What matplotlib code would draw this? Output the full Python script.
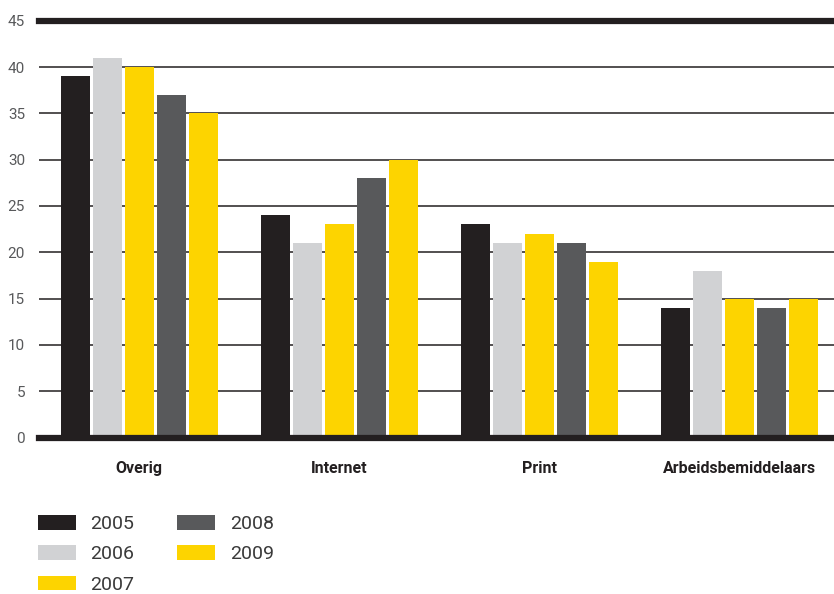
import matplotlib
matplotlib.use("Agg")
import numpy as np
from matplotlib import pyplot as plt

categories = ["Overig", "Internet", "Print", "Arbeidsbemiddelaars"]
years = ["2005", "2006", "2007", "2008", "2009"]
values = {
    "2005": [39, 24, 23, 14],
    "2006": [41, 21, 21, 18],
    "2007": [40, 23, 22, 15],
    "2008": [37, 28, 21, 14],
    "2009": [35, 30, 19, 15],
}
colors = ["#231f20", "#d1d2d4", "#fdd400", "#58595b", "#fdd400"]
yticks = [0, 5, 10, 15, 20, 25, 30, 35, 40, 45]

plt.rcParams['font.family'] = ['Roboto', 'DejaVu Sans']

fig = plt.figure(figsize=(8.34, 5.94), dpi=100)
ax = fig.add_axes([39 / 834, 1 - 437.5 / 594, 1 - 39 / 834, (437.5 - 20.7) / 594])

x = np.arange(len(categories))
step = 0.16
width = 0.145
for i, yr in enumerate(years):
    ax.bar(x + (i - 2) * step, values[yr], width=width, color=colors[i],
           label=yr, zorder=3)

# gridlines
for t in yticks[1:-1]:
    ax.axhline(t, color="#231f20", lw=1.1, zorder=1)
ax.axhline(45, color="#231f20", lw=4.5, zorder=1, clip_on=False)
ax.axhline(0, color="#231f20", lw=4.5, zorder=4, clip_on=False)

ax.set_xlim(-0.5, 3.47)
ax.set_ylim(0, 45)
ax.set_yticks(yticks)
ax.set_yticklabels([str(t) for t in yticks], color="#58595b", fontsize=11)
ax.tick_params(axis="y", length=0, pad=10)
ax.set_xticks(x)
ax.set_xticklabels(categories, fontweight="bold", fontsize=11.5, color="#231f20")
ax.tick_params(axis="x", length=0, pad=17)
for s in ax.spines.values():
    s.set_visible(False)

fig.legend(loc="upper left", bbox_to_anchor=(38 / 834, 1 - 515 / 594),
           ncol=2, frameon=False, borderpad=0, borderaxespad=0,
           handlelength=1.95, handleheight=0.8,
           handletextpad=0.75, columnspacing=2.2, labelspacing=0.62,
           labelcolor="#3a3a3a", prop={"size": 14})

fig.savefig("out.png", dpi=100)
